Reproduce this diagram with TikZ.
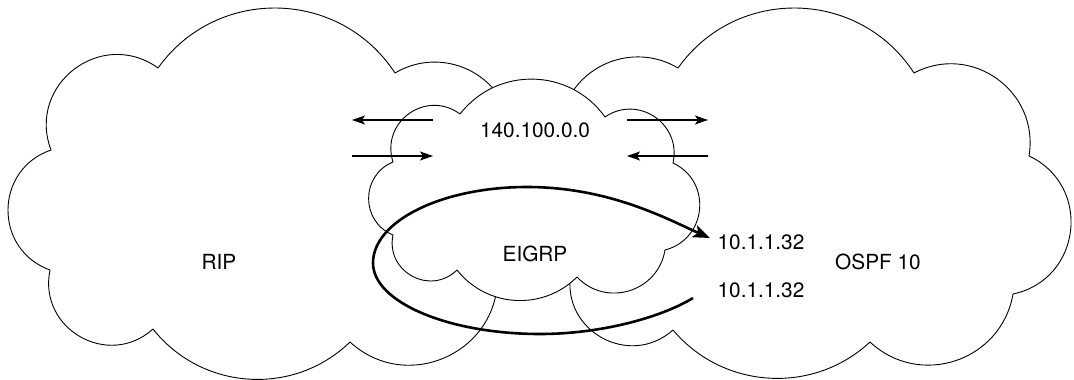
\documentclass[tikz,border=0pt]{standalone}
\usepackage{fontspec}
\setmainfont{TeX Gyre Heros}
\usetikzlibrary{arrows.meta}
\begin{document}
\begin{tikzpicture}[x=1pt,y=-1pt,
  cloudline/.style={line width=0.9pt, draw=black, line join=round},
  thinarrow/.style={line width=1.2pt, -{Stealth[length=13pt,width=9pt,inset=3pt]}},
  thickarrow/.style={line width=2.6pt, -{Stealth[length=17pt,width=13pt,inset=4pt]}},
  lbl/.style={inner sep=0pt, font=\fontsize{20.8}{25}\selectfont}]
\useasboundingbox (0,0) rectangle (1074,380);

% RIP cloud (right side hidden under EIGRP), clockwise
\draw[cloudline] (497.6,277)
  to[bend left=66.3, looseness=1.215] (350,342)
  to[bend left=47.9, looseness=1.019] (153,329)
  to[bend left=71.9, looseness=1.30] (50,270)
  to[bend left=70.6, looseness=1.279] (51,150)
  to[bend left=73.1, looseness=1.32] (158,68)
  to[bend left=55.6, looseness=1.088] (395,73)
  to[bend left=45.5, looseness=1.0] (502,101);

% OSPF cloud (left side hidden under EIGRP), clockwise
\draw[cloudline] (566.5,102.3)
  to[bend left=47.9, looseness=1.02] (678,68)
  to[bend left=55.8, looseness=1.09] (914,73)
  to[bend left=63.6, looseness=1.18] (1029,156)
  to[bend left=71.5, looseness=1.293] (1013,294)
  to[bend left=61.6, looseness=1.155] (870,342)
  to[bend left=46.4, looseness=1.008] (673,330)
  to[bend left=70.8, looseness=1.281] (570.9,273);

% EIGRP cloud (on top, white filled), clockwise
\filldraw[cloudline, fill=white] (460,114)
  to[bend left=53.3, looseness=1.066] (605,117)
  to[bend left=68.6, looseness=1.247] (673,163)
  to[bend left=70.2, looseness=1.272] (665,250)
  to[bend left=63.6, looseness=1.178] (577,277)
  to[bend left=48.4, looseness=1.023] (457,270)
  to[bend left=73.0, looseness=1.318] (393,235)
  to[bend left=67.7, looseness=1.235] (393,162)
  to[bend left=72.0, looseness=1.303] (460,114)
  -- cycle;

% labels
\node[lbl] (rip) at (219,262) {RIP};
\node[lbl] (eigrp) at (535,254) {EIGRP};
\node[lbl] (net) at (535,130) {140.100.0.0};
\node[lbl] (ospf) at (878,262) {OSPF 10};
\node[lbl] (ipa) at (761,242) {10.1.1.32};
\node[lbl] (ipb) at (761,290) {10.1.1.32};

% arrow end points
\coordinate (a1s) at (433,120); \coordinate (a1e) at (352,120);
\coordinate (a2s) at (352,156); \coordinate (a2e) at (433,156);
\coordinate (a3s) at (627,120); \coordinate (a3e) at (708,120);
\coordinate (a4s) at (708,156); \coordinate (a4e) at (627,156);
\coordinate (tailA) at (693,298); \coordinate (tipA) at (710,238);

\draw[thinarrow] (a1s) -- (a1e);
\draw[thinarrow] (a2s) -- (a2e);
\draw[thinarrow] (a3s) -- (a3e);
\draw[thinarrow] (a4s) -- (a4e);

\draw[thickarrow] (tailA)
  .. controls (660,318) and (600,334) .. (540,334)
  .. controls (448,334) and (373,302) .. (373,263)
  .. controls (373,221) and (442,187) .. (527,187)
  .. controls (610,187) and (669,220) .. (tipA);
\end{tikzpicture}
\end{document}
